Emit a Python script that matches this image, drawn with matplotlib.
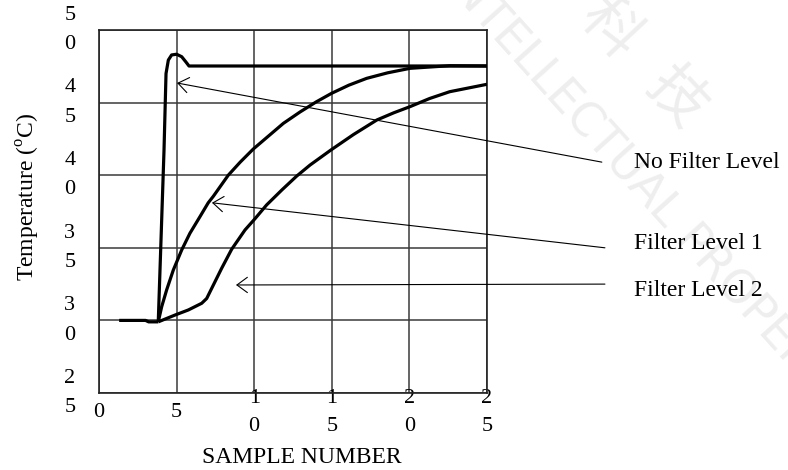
import matplotlib
matplotlib.use('Agg')
import matplotlib.pyplot as plt

plt.rcParams['font.family'] = ['Liberation Serif', 'DejaVu Serif']
plt.rcParams['mathtext.fontset'] = 'custom'
plt.rcParams['mathtext.rm'] = 'Liberation Serif'

#Readings taken off the original figure (sample number vs temperature)
baseX = [1.3, 3.0, 3.2, 3.82]
baseY = [30.0, 30.0, 29.9, 29.9]

noFilterX = [3.82, 4.19, 4.32, 4.47, 4.68, 5.0, 5.33, 5.6, 5.8, 25.0]
noFilterY = [29.9, 41.7, 47.0, 47.93, 48.28, 48.33, 48.16, 47.8, 47.52, 47.52]

level1X = [3.82, 4.04, 4.36, 4.79, 5.33, 5.86, 6.51, 7.04, 7.37, 8.33, 9.1, 9.94,
           11.88, 12.95, 14.0, 14.99, 16.1, 17.25, 18.6, 20.04, 22.6, 25.0]
level1Y = [29.9, 30.94, 32.1, 33.47, 34.85, 36.0, 37.15, 38.1, 38.55, 40.0, 40.9, 41.8,
           43.57, 44.35, 45.05, 45.64, 46.2, 46.67, 47.05, 47.36, 47.54, 47.52]

level2X = [3.82, 4.9, 5.76, 6.62, 6.94, 7.26, 7.9, 8.55, 9.41, 10.05, 10.8,
           11.8, 12.74, 13.6, 14.95, 16.4, 17.9, 19.0, 20.04, 21.3, 22.6, 25.0]
level2Y = [29.9, 30.37, 30.72, 31.18, 31.51, 32.2, 33.58, 34.9, 36.23, 37.0, 37.95,
           39.0, 39.94, 40.7, 41.74, 42.8, 43.8, 44.3, 44.72, 45.28, 45.75, 46.26]

labels = ['No Filter Level', 'Filter Level 1', 'Filter Level 2']

xTicks = [0, 5, 10, 15, 20, 25]
xTickLabels = ['0', '5', '1\n0', '1\n5', '2\n0', '2\n5']
yTicks = [25, 30, 35, 40, 45, 50]
yTickLabels = ['2\n5', '3\n0', '3\n5', '4\n0', '4\n5', '5\n0']

#Where the pointer arrows touch the curves and where their tails end
arrowTips = [(5.03, 46.35), (7.28, 38.1), (8.83, 32.44)]
arrowTails = [(32.4, 40.9), (32.6, 35.0), (32.6, 32.5)]
labelPos = [(34.5, 40.84), (34.5, 35.33), (34.5, 32.09)]

# Create plot
fig = plt.figure(figsize=(7.88, 4.70), dpi=100)
ax = fig.add_axes([0.1256, 0.1638, 0.4924, 0.7724])
ax.set_zorder(2)

#faint watermark behind everything
wmColour = '#eeeeee'
cjk = ['Noto Sans CJK TC', 'DejaVu Sans']
fig.text(0.774, 0.94, '科', fontsize=42, color=wmColour, rotation=-47,
         ha='center', va='center', family=cjk, zorder=1)
fig.text(0.857, 0.79, '技', fontsize=42, color=wmColour, rotation=-47,
         ha='center', va='center', family=cjk, zorder=1)
fig.text(0.570, 1.062, 'INTELLECTUAL PROPERTY', fontsize=33, color=wmColour,
         rotation=-48, rotation_mode='anchor', ha='left', va='center',
         family='DejaVu Sans', zorder=1)

lineStyle = dict(color='black', lw=2.3, solid_joinstyle='round', solid_capstyle='butt', zorder=3)
ax.plot(baseX, baseY, **lineStyle)
ax.plot(noFilterX, noFilterY, **lineStyle)
ax.plot(level1X, level1Y, **lineStyle)
ax.plot(level2X, level2Y, **lineStyle)

ax.set_xlim(0, 25)
ax.set_ylim(25, 50)
ax.set_xticks(xTicks)
ax.set_yticks(yTicks)
ax.set_xticklabels(xTickLabels, fontsize=16, va='center', linespacing=1.7)
ax.set_yticklabels(yTickLabels, fontsize=16, ha='center', va='center', linespacing=1.75)
ax.tick_params(axis='x', length=0, pad=14)
ax.tick_params(axis='y', length=0, pad=21)
ax.grid(True, color='#3a3a3a', lw=1.1)
ax.set_axisbelow(True)
for s in ax.spines.values():
    s.set_linewidth(1.2)
    s.set_color('#222222')
ax.set_facecolor('none')

#Pointers and their labels
for tip, tail, pos, text in zip(arrowTips, arrowTails, labelPos, labels):
    ax.annotate('', xy=tip, xytext=tail, annotation_clip=False,
                arrowprops=dict(arrowstyle='->,head_length=0.75,head_width=0.55',
                                lw=0.8, color='black', mutation_scale=10,
                                shrinkA=0, shrinkB=0))
    ax.text(pos[0], pos[1], text, fontsize=17, ha='left', va='center', clip_on=False)

ax.set_xlabel('SAMPLE NUMBER', fontsize=17)
ax.xaxis.set_label_coords(0.523, -0.15)
ax.set_ylabel('Temperature ($^{\\mathrm{o}}$C)', fontsize=17)
ax.yaxis.set_label_coords(-0.147, 0.54)

fig.savefig('out.png', dpi=100)
